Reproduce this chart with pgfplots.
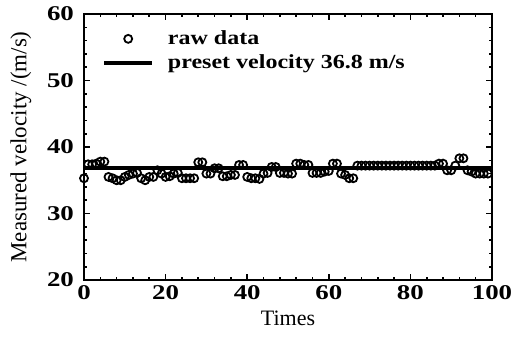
\documentclass[border=0pt]{standalone}
\usepackage{pgfplots}
\pgfplotsset{compat=1.18}
\usepackage{fontspec}
\setmainfont{Liberation Serif}
\newfontfamily\tickfont[FakeStretch=1.28]{Liberation Serif}
\newfontfamily\legfont[FakeStretch=1.2]{Liberation Serif}
\begin{document}
\begin{tikzpicture}
\begin{axis}[
  name=ax,
  scale only axis,
  width=204pt, height=133pt,
  xmin=0, xmax=100, ymin=20, ymax=60,
  xtick={0,20,40,60,80,100},
  ytick={20,30,40,50,60},
  minor x tick num=4,
  minor y tick num=4,
  tick align=inside,
  major tick length=3pt,
  minor tick length=1.6pt,
  every tick/.style={black, line width=0.8pt},
  axis line style={line width=0.8pt},
  xticklabel style={font=\tickfont\fontsize{10.5}{12}\selectfont\bfseries, yshift=1pt},
  yticklabel style={font=\tickfont\fontsize{10.5}{12}\selectfont\bfseries, xshift=-1.5pt},
  /pgf/number format/assume math mode=true,
  xlabel={Times},
  ylabel={Measured velocity /(m/s)},
  xlabel style={font=\fontsize{11}{12}\selectfont, yshift=1pt},
  ylabel style={font=\fontsize{11.5}{12}\selectfont, yshift=1pt},
  legend style={draw=none, fill=none, at={(0,1)}, anchor=north west,
    xshift=9pt, yshift=-6pt, inner sep=0pt,
    font=\legfont\fontsize{10}{11}\selectfont\bfseries, row sep=-0.5pt,
    /tikz/every odd column/.append style={column sep=5pt}},
  legend cell align=left,
]
\addplot[only marks, mark=o, mark size=2pt, mark options={line width=0.9pt, black},
  legend image code/.code={\draw[black] plot[only marks, mark=o, mark size=2pt, mark options={line width=0.9pt}] coordinates {(12pt,0pt)};}] coordinates {
(0,35.3)(1,37.4)(2,37.4)(3,37.5)(4,37.8)(5,37.8)(6,35.5)(7,35.3)(8,35.0)(9,35.0)
(10,35.5)(11,35.8)(12,36.0)(13,36.1)(14,35.3)(15,35.0)(16,35.5)(17,35.5)(18,36.5)(19,36.0)
(20,35.5)(21,35.6)(22,36.0)(23,36.1)(24,35.3)(25,35.3)(26,35.3)(27,35.3)(28,37.7)(29,37.7)
(30,36.0)(31,36.0)(32,36.8)(33,36.8)(34,35.6)(35,35.6)(36,35.8)(37,35.8)(38,37.3)(39,37.3)
(40,35.5)(41,35.3)(42,35.3)(43,35.2)(44,36.0)(45,36.1)(46,37.0)(47,37.0)(48,36.1)(49,36.1)
(50,36.0)(51,36.0)(52,37.5)(53,37.5)(54,37.3)(55,37.3)(56,36.1)(57,36.1)(58,36.1)(59,36.3)
(60,36.4)(61,37.5)(62,37.5)(63,36.0)(64,35.8)(65,35.3)(66,35.3)(67,37.2)(68,37.2)(69,37.2)
(70,37.2)(71,37.2)(72,37.2)(73,37.2)(74,37.2)(75,37.2)(76,37.2)(77,37.2)(78,37.2)(79,37.2)
(80,37.2)(81,37.2)(82,37.2)(83,37.2)(84,37.2)(85,37.2)(86,37.2)(87,37.5)(88,37.5)(89,36.5)
(90,36.5)(91,37.2)(92,38.3)(93,38.3)(94,36.5)(95,36.3)(96,36.0)(97,36.0)(98,36.0)(99,36.0)
};
\addlegendentry{raw data}
\addplot[black, line width=1.8pt, legend image code/.code={\draw[black, line width=1.8pt] (0pt,0pt) -- (24pt,0pt);}] coordinates {(0,36.8)(100,36.8)};
\addlegendentry{preset velocity 36.8 m/s}
\end{axis}
\pgfresetboundingbox
\path[use as bounding box] ([shift={(-42pt,-28.5pt)}]ax.south west) rectangle ([shift={(13.5pt,7pt)}]ax.north east);
\end{tikzpicture}
\end{document}
